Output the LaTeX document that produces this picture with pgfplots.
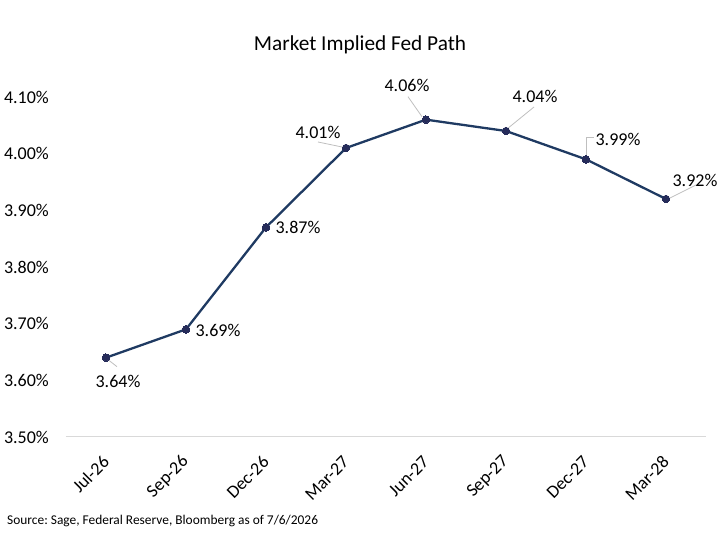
\documentclass[border=0pt]{standalone}
\usepackage{fontspec}
\setmainfont{Carlito}
\usepackage{pgfplots}
\pgfplotsset{compat=1.18}
\usepackage{pgfplotstable}

\definecolor{pathline}{RGB}{31,58,98}
\definecolor{pathmark}{RGB}{38,44,90}
\definecolor{leader}{RGB}{191,191,191}
\definecolor{baseline}{RGB}{217,217,217}

% implied policy rate by meeting month, with label offsets (pt)
\pgfplotstableread{
x y dx dy
0 3.64 12 -24
1 3.69 32 -1
2 3.87 32 0
3 4.01 -28 16
4 4.06 -19 34
5 4.04 29 35
6 3.99 32 20
7 3.92 29 19
}\fedpath

\begin{document}
\frenchspacing
\begin{tikzpicture}[x=1pt,y=1pt]
\useasboundingbox (-66,-103) rectangle (654,437);
\begin{axis}[
  at={(0,0)}, anchor=south west,
  scale only axis, width=640pt, height=340pt,
  xmin=-0.5, xmax=7.5, ymin=3.5, ymax=4.1,
  axis x line=bottom, axis y line=left,
  x axis line style={draw=baseline, line width=1pt, -},
  y axis line style={draw=none, -},
  major tick length=0pt,
  /pgf/number format/assume math mode=true,
  xtick={0,...,7},
  xticklabels={Jul-26,Sep-26,Dec-26,Mar-27,Jun-27,Sep-27,Dec-27,Mar-28},
  ytick={3.5,3.6,3.7,3.8,3.9,4.0,4.1},
  yticklabels={3.50\%,3.60\%,3.70\%,3.80\%,3.90\%,4.00\%,4.10\%},
  tick label style={font=\fontsize{18}{20}\selectfont, black},
  yticklabel style={anchor=east, inner sep=0pt, xshift=-17pt},
  xticklabel style={inner sep=0pt, yshift=-22pt, rotate=45, anchor=east},
  clip=false,
]
\addplot[pathline, line width=2.3pt, mark=*, mark size=3.8pt,
  mark options={draw=pathmark, fill=pathmark, line width=0pt},
  point meta=explicit,
  nodes near coords={\pgfmathprintnumber[fixed,fixed zerofill,precision=2,assume math mode=true]{\pgfplotspointmeta}\%},
  visualization depends on={\thisrow{dx}\as\labdx},
  visualization depends on={\thisrow{dy}\as\labdy},
  every node near coord/.append style={anchor=center, inner sep=0pt,
    xshift=\labdx pt, yshift=\labdy pt, black,
    font=\fontsize{18}{20}\selectfont},
] table[x=x, y=y, meta=y] {\fedpath};

% leader lines from labels to their points
\begin{scope}[draw=leader, line width=0.8pt]
\draw (axis cs:0,3.64) ++(2pt,-2pt) -- ++(9pt,-7pt);
\draw (axis cs:3,4.01) ++(-4pt,1pt) -- ++(-24pt,5pt);
\draw (axis cs:4,4.06) ++(-4pt,3pt) -- ++(-14pt,20pt);
\draw (axis cs:5,4.04) ++(1pt,2pt) -- ++(27pt,22pt);
\draw (axis cs:6,3.99) ++(0pt,4pt) -- ++(0pt,18pt) -- ++(8pt,0pt);
\draw (axis cs:7,3.92) ++(4pt,1pt) -- ++(26pt,13pt);
\end{scope}
\end{axis}

\node[font=\fontsize{21.3}{24}\selectfont] at (294,392) {Market Implied Fed Path};
\node[anchor=west, inner sep=0pt, font=\fontsize{13.4}{15}\selectfont] at (-59,-84)
  {Source: Sage, Federal Reserve, Bloomberg as of 7/6/2026};
\end{tikzpicture}
\end{document}
